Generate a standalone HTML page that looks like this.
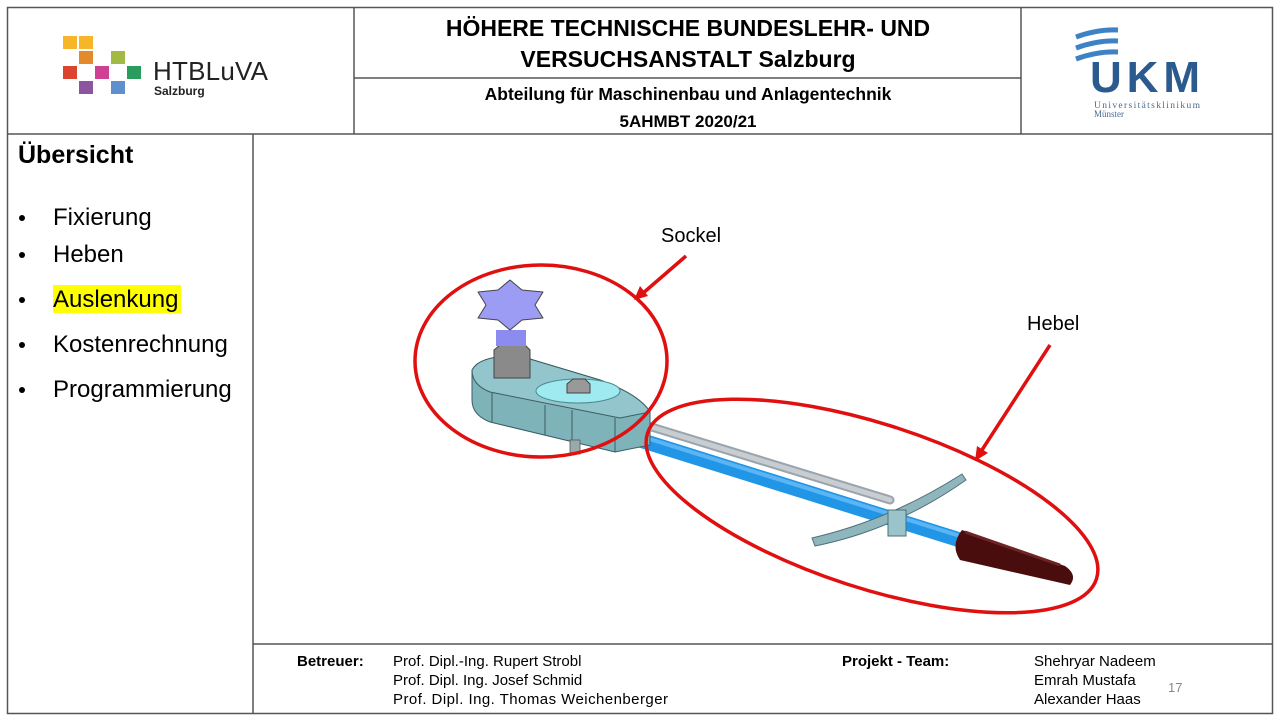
<!DOCTYPE html>
<html><head><meta charset="utf-8"><style>
html,body{margin:0;padding:0;background:#fff;}
svg{display:block;font-family:"Liberation Sans",sans-serif;}
</style></head><body>
<svg width="1280" height="720" viewBox="0 0 1280 720" xmlns="http://www.w3.org/2000/svg">
<rect x="0" y="0" width="1280" height="720" fill="#fff"/>
<g stroke="#555" stroke-width="1.5" fill="none">
<rect x="7.5" y="7.5" width="1265" height="706"/>
<line x1="7" y1="134" x2="1273" y2="134"/>
<line x1="354" y1="7" x2="354" y2="134"/>
<line x1="1021" y1="7" x2="1021" y2="134"/>
<line x1="354" y1="78" x2="1021" y2="78"/>
<line x1="253" y1="134" x2="253" y2="713"/>
<line x1="253" y1="644" x2="1273" y2="644"/>
</g>
<g>
<rect x="63" y="36" width="14" height="13" fill="#f7b52a"/>
<rect x="79" y="36" width="14" height="13" fill="#f7b52a"/>
<rect x="79" y="51" width="14" height="13" fill="#e38a2c"/>
<rect x="111" y="51" width="14" height="13" fill="#a2b944"/>
<rect x="63" y="66" width="14" height="13" fill="#d9452f"/>
<rect x="95" y="66" width="14" height="13" fill="#cf3f92"/>
<rect x="127" y="66" width="14" height="13" fill="#2a9d5c"/>
<rect x="79" y="81" width="14" height="13" fill="#8c55a0"/>
<rect x="111" y="81" width="14" height="13" fill="#5f8fcc"/>
<text x="153" y="80" font-size="26" fill="#222" textLength="115">HTBLuVA</text>
<text x="154" y="95" font-size="12" font-weight="bold" fill="#222">Salzburg</text>
</g>
<text x="688" y="36" font-size="23" font-weight="bold" text-anchor="middle">HÖHERE TECHNISCHE BUNDESLEHR- UND</text>
<text x="688" y="67" font-size="23" font-weight="bold" text-anchor="middle">VERSUCHSANSTALT Salzburg</text>
<text x="688" y="100" font-size="17.5" font-weight="bold" text-anchor="middle">Abteilung für Maschinenbau  und Anlagentechnik</text>
<text x="688" y="127" font-size="17" font-weight="bold" text-anchor="middle">5AHMBT 2020/21</text>
<g fill="none" stroke="#3d82c4" stroke-width="5">
<path d="M1076 37 Q1098 29 1118 30"/>
<path d="M1076 48 Q1098 40 1118 41"/>
<path d="M1076 59 Q1098 51 1118 52"/>
</g>
<text x="1090" y="92" font-size="44" font-weight="bold" fill="#2b5a8f" textLength="110">UKM</text>
<text x="1094" y="108" font-size="9.5" fill="#4a6a8f" font-family="Liberation Serif,serif" textLength="106">Universitätsklinikum</text>
<text x="1094" y="117" font-size="9" fill="#4a6a8f" font-family="Liberation Serif,serif">Münster</text>
<text x="18" y="163" font-size="25" font-weight="bold">Übersicht</text>
<g font-size="24">
<circle cx="22" cy="218" r="3"/><text x="53" y="225">Fixierung</text>
<circle cx="22" cy="255" r="3"/><text x="53" y="262">Heben</text>
<rect x="53" y="285" width="128" height="28" fill="#ffff00"/>
<circle cx="22" cy="300" r="3"/><text x="53" y="307">Auslenkung</text>
<circle cx="22" cy="345" r="3"/><text x="53" y="352">Kostenrechnung</text>
<circle cx="22" cy="390" r="3"/><text x="53" y="397">Programmierung</text>
</g>
<text x="661" y="242" font-size="20">Sockel</text>
<text x="1027" y="330" font-size="20">Hebel</text>
<line x1="645" y1="425" x2="890" y2="500" stroke="#9aa4ad" stroke-width="9" stroke-linecap="round"/>
<line x1="645" y1="425" x2="890" y2="500" stroke="#c8cdd2" stroke-width="5" stroke-linecap="round"/>
<line x1="640" y1="440" x2="960" y2="540" stroke="#2196e6" stroke-width="15"/>
<line x1="640" y1="436" x2="960" y2="536" stroke="#5bb5f5" stroke-width="4"/>
<path d="M812 538 Q890 520 962 474 L966 480 Q895 530 815 546 Z" fill="#8fb6bd" stroke="#4e7078" stroke-width="1"/>
<rect x="888" y="510" width="18" height="26" fill="#9bc3ca" stroke="#4e7078" stroke-width="1"/>
<path d="M962 530 L1065 566 Q1078 575 1070 585 L960 560 Q950 545 962 530 Z" fill="#4a0d0d"/>
<path d="M965 532 L1060 565" stroke="#6e2424" stroke-width="3"/>
<path d="M472 370 Q480 355 520 356 L600 380 Q640 395 650 412 L650 445 L615 452 L490 422 Q472 415 472 400 Z" fill="#7fb3ba" stroke="#3b5d63" stroke-width="1"/>
<path d="M472 370 Q480 355 520 356 L600 380 Q640 395 650 412 L620 418 L490 392 Q472 385 472 370 Z" fill="#92c5cc" stroke="#3b5d63" stroke-width="1"/>
<g stroke="#3b5d63" stroke-width="1"><line x1="492" y1="393" x2="492" y2="422"/><line x1="545" y1="405" x2="545" y2="435"/><line x1="572" y1="410" x2="572" y2="442"/><line x1="615" y1="418" x2="615" y2="452"/></g>
<rect x="570" y="440" width="10" height="14" fill="#9aa" stroke="#555" stroke-width="0.8"/>
<ellipse cx="578" cy="391" rx="42" ry="12" fill="#9feaf0" stroke="#4a8a90" stroke-width="1"/>
<path d="M567 384 L573 379 L585 379 L590 384 L590 393 L567 393 Z" fill="#999" stroke="#444" stroke-width="1"/>
<path d="M494 350 L500 345 L525 345 L530 350 L530 378 L494 378 Z" fill="#8a8a8a" stroke="#444" stroke-width="1"/>
<rect x="496" y="330" width="30" height="16" fill="#8c8cf0"/>
<path d="M478 292 L498 290 L510 280 L522 290 L543 292 L535 305 L543 318 L522 320 L510 330 L498 320 L478 318 L486 305 Z" fill="#9c9cf5" stroke="#444" stroke-width="1" stroke-linejoin="round"/>
<g stroke="#e01010" stroke-width="3.5" fill="none">
<ellipse cx="541" cy="361" rx="126" ry="96"/>
<ellipse cx="872" cy="506" rx="236" ry="82" transform="rotate(18 872 506)"/>
<line x1="686" y1="256" x2="642" y2="294"/>
<line x1="1050" y1="345" x2="980" y2="453"/>
</g>
<g fill="#e01010">
<path d="M634 300 L640 286 L648 296 Z"/>
<path d="M975 461 L977 446 L988 453 Z"/>
</g>
<g font-size="15">
<text x="297" y="666" font-weight="bold">Betreuer:</text>
<text x="393" y="666">Prof. Dipl.-Ing.  Rupert Strobl</text>
<text x="393" y="685">Prof. Dipl. Ing.  Josef Schmid</text>
<text x="393" y="704" textLength="275">Prof. Dipl. Ing.  Thomas Weichenberger</text>
<text x="842" y="666" font-weight="bold">Projekt - Team:</text>
<text x="1034" y="666">Shehryar Nadeem</text>
<text x="1034" y="685">Emrah Mustafa</text>
<text x="1034" y="704">Alexander Haas</text>
<text x="1168" y="692" font-size="13" fill="#888">17</text>
</g>
</svg>
</body></html>
